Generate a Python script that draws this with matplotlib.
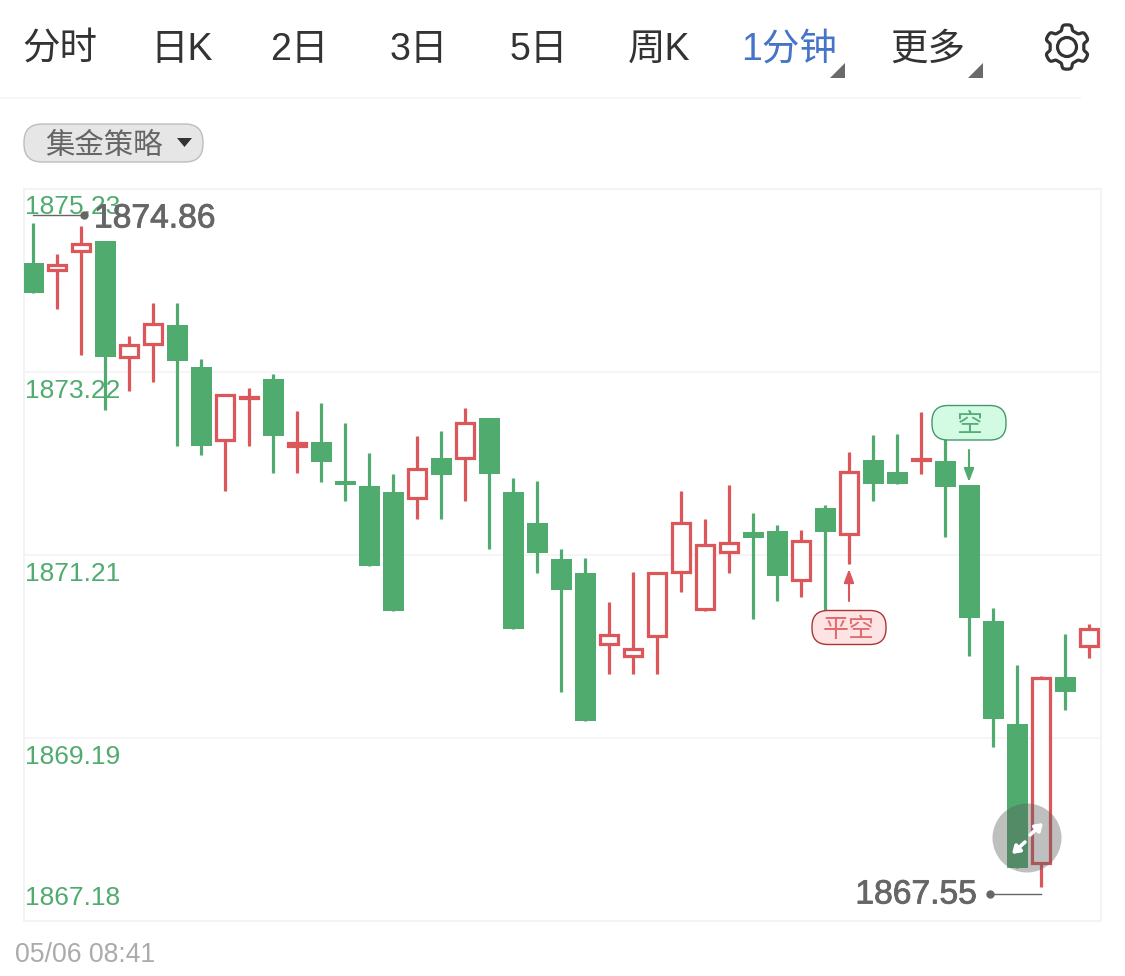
import numpy as np
import matplotlib
matplotlib.use("Agg")
import matplotlib.pyplot as plt
from matplotlib.patches import FancyBboxPatch, Polygon, Circle
import matplotlib.patheffects as pe

FONT = ['Liberation Sans', 'Noto Sans CJK SC', 'DejaVu Sans']
plt.rcParams['font.family'] = FONT

tabs = ['分时', '日K', '2日', '3日', '5日', '周K', '1分钟', '更多']
strategy_label = '集金策略'
time_label = '05/06 08:41'
y_ticks = [1875.23, 1873.22, 1871.21, 1869.19, 1867.18]
y_labels = ['1875.23', '1873.22', '1871.21', '1869.19', '1867.18']

highs = [1874.86, 1874.52, 1874.82, 1874.66, 1873.61, 1873.98, 1873.98, 1873.36, 1872.98, 1873.04,
         1873.20, 1872.79, 1872.88, 1872.66, 1872.33, 1872.10, 1872.51, 1872.57, 1872.82, 1872.71,
         1872.05, 1872.02, 1871.27, 1871.17, 1870.69, 1871.02, 1871.02, 1871.91, 1871.60, 1871.97,
         1871.67, 1871.53, 1871.48, 1871.75, 1872.34, 1872.52, 1872.54, 1872.78, 1872.49, 1871.97,
         1870.62, 1869.99, 1869.87, 1870.34, 1870.45]
lows = [1874.09, 1873.91, 1873.40, 1872.80, 1873.01, 1873.11, 1872.40, 1872.30, 1871.91, 1872.40,
        1872.11, 1872.11, 1872.01, 1871.80, 1871.08, 1870.59, 1871.60, 1871.60, 1871.80, 1871.27,
        1870.39, 1871.01, 1869.70, 1869.38, 1869.90, 1869.90, 1869.90, 1870.80, 1870.59, 1871.01,
        1870.50, 1870.70, 1870.74, 1870.54, 1871.11, 1871.80, 1871.99, 1872.10, 1871.40, 1870.09,
        1869.09, 1867.76, 1867.55, 1869.50, 1870.07]
opens = [1874.42, 1874.32, 1874.53, 1874.66, 1873.37, 1873.51, 1873.73, 1873.27, 1872.45, 1872.91,
         1873.14, 1872.39, 1872.45, 1872.02, 1871.96, 1871.90, 1871.81, 1872.27, 1872.25, 1872.71,
         1871.90, 1871.56, 1871.16, 1871.01, 1870.21, 1870.08, 1870.30, 1871.00, 1870.59, 1871.22,
         1871.46, 1871.47, 1870.91, 1871.72, 1871.42, 1872.25, 1872.12, 1872.23, 1872.24, 1871.97,
         1870.48, 1869.35, 1867.80, 1869.86, 1870.19]
closes = [1874.09, 1874.41, 1874.64, 1873.38, 1873.53, 1873.76, 1873.34, 1872.40, 1872.98, 1872.96,
          1872.51, 1872.45, 1872.23, 1871.97, 1871.08, 1870.59, 1872.17, 1872.08, 1872.67, 1872.10,
          1870.39, 1871.23, 1870.82, 1869.38, 1870.34, 1870.19, 1871.02, 1871.57, 1871.33, 1871.35,
          1871.39, 1870.97, 1871.38, 1871.46, 1872.14, 1871.99, 1871.99, 1872.28, 1871.95, 1870.51,
          1869.40, 1867.76, 1869.87, 1869.70, 1870.41]

GREEN = '#4fab6e'
RED = '#db5759'
LINE = '#f3f3f5'
W, H = 1125, 976
L, R, T, B = 24, 1101, 189, 921

fig = plt.figure(figsize=(W / 100, H / 100), dpi=100, facecolor='white')
ax = fig.add_axes([L / W, 1 - B / H, (R - L) / W, (B - T) / H], zorder=1)

x = np.arange(len(opens))
o, h, l, c = map(np.array, (opens, highs, lows, closes))
up = c > o
ax.set_xlim(-0.375, 44.5)
ax.set_ylim(y_ticks[-1], y_ticks[0])
px_price = (y_ticks[0] - y_ticks[-1]) / (B - T)
px_x = 1 / 24.0
stroke_px = 3.2
stroke_pt = stroke_px * 0.72

for s in ax.spines.values():
    s.set_color(LINE)
    s.set_linewidth(1.4)
ax.set_xticks([])
ax.set_yticks(y_ticks[1:-1])
ax.set_yticklabels([])
ax.tick_params(axis='y', length=0)
ax.grid(axis='y', color=LINE, linewidth=1.2, zorder=0)
ax.set_axisbelow(True)

offsets = [-18, -19, -19, -19, 23]
for v, t, off in zip(y_ticks, y_labels, offsets):
    ax.annotate(t, xy=(0, v), xycoords=('axes fraction', 'data'),
                xytext=(1, off * 0.72), textcoords='offset points',
                color=GREEN, fontsize=19, ha='left', va='center', zorder=2)

ax.vlines(x[~up], l[~up], h[~up], color=GREEN, linewidth=stroke_pt, capstyle='butt', zorder=3)
ax.vlines(x[up], l[up], h[up], color=RED, linewidth=stroke_pt, capstyle='butt', zorder=3)
ax.bar(x[~up], (o - c)[~up], bottom=c[~up], width=21 * px_x, color=GREEN, linewidth=0, zorder=4)
inset = stroke_px / 2 * px_price
ax.bar(x[up], (c - o)[up] - 2 * inset, bottom=o[up] + inset, width=(21 - stroke_px) * px_x,
       facecolor='white', edgecolor=RED, linewidth=stroke_pt, joinstyle='miter', zorder=4)

# overlay in pixel coordinates: toolbar and annotations
ov = fig.add_axes([0, 0, 1, 1], zorder=2)
ov.set_xlim(0, W)
ov.set_ylim(H, 0)
ov.axis('off')
ov.patch.set_alpha(0)

tab_x = [22, 150, 270, 390, 510, 628, 741, 890]
for t, tx in zip(tabs, tab_x):
    ov.text(tx, 50, t, fontsize=27, family=FONT, ha='left', va='center',
            color='#4674c6' if t == '1分钟' else '#333333')
for tx in (845, 983):
    ov.add_patch(Polygon([(tx, 63), (tx, 78), (tx - 15, 78)], closed=True, color='#6a6a6a', lw=0))
ov.plot([0, 1080], [98, 98], color=LINE, lw=1.2)

# gear
theta = np.linspace(0, 2 * np.pi, 361)
radius = 19.5 + 2.7 * np.tanh(2.5 * np.cos(6 * (theta - np.pi / 2)))
ov.add_patch(Polygon(np.c_[1067 + radius * np.cos(theta), 47 + radius * np.sin(theta)], closed=True,
                     fill=False, edgecolor='#333333', lw=2.3, joinstyle='round'))
ov.add_patch(Circle((1067, 47), 9.5, fill=False, edgecolor='#333333', lw=2.3))

# strategy pill
ov.add_patch(FancyBboxPatch((24, 124), 179, 38, boxstyle='round,pad=0,rounding_size=18',
                            facecolor='#e6e6e6', edgecolor='#bdbdbd', lw=1))
ov.text(45, 146, strategy_label, fontsize=21.2, family=FONT, ha='left', va='center', color='#666666')
ov.add_patch(Polygon([(177, 138), (192, 138), (184.5, 147)], closed=True, color='#333333', lw=0))

ov.text(15, 955, time_label, fontsize=19.2, ha='left', va='center', color='#ababab')

# extreme value leaders
bold = [pe.withStroke(linewidth=0.6, foreground='#666666')]
hi_x = ax.transData.transform((int(np.argmax(h)), 0))[0]
lo_x = ax.transData.transform((int(np.argmin(l)), 0))[0]
ov.plot([hi_x, 84], [215, 215], color='#666666', lw=1)
ov.plot([84], [215], 'o', color='#666666', ms=6, mew=0)
ov.text(94, 219, f'{h.max():.2f}', fontsize=24.2, ha='left', va='center', color='#666666', path_effects=bold)
ov.plot([990, lo_x], [894, 894], color='#666666', lw=1)
ov.plot([990], [894], 'o', color='#666666', ms=6, mew=0)
ov.text(977, 895, f'{l.min():.2f}', fontsize=24.2, ha='right', va='center', color='#666666', path_effects=bold)

# signal pills
ov.add_patch(FancyBboxPatch((932, 405.5), 74, 34.5, boxstyle='round,pad=0,rounding_size=16',
                            facecolor='#d3fae3', edgecolor='#44996a', lw=1))
ov.text(969, 425, '空', fontsize=18.7, family=FONT, ha='center', va='center', color='#55ad78')
ov.annotate('', xy=(969, 482), xytext=(969, 450),
            arrowprops=dict(arrowstyle='-|>,head_width=0.3,head_length=0.8', color=GREEN, lw=1.5,
                            shrinkA=0, shrinkB=0))
ov.add_patch(FancyBboxPatch((812, 610.5), 74, 34, boxstyle='round,pad=0,rounding_size=16',
                            facecolor='#fde3e3', edgecolor='#a93536', lw=1))
ov.text(849, 630, '平空', fontsize=18.7, family=FONT, ha='center', va='center', color='#e26a6c')
ov.annotate('', xy=(849, 569), xytext=(849, 601),
            arrowprops=dict(arrowstyle='-|>,head_width=0.3,head_length=0.8', color=RED, lw=1.5,
                            shrinkA=0, shrinkB=0))

# expand button
ov.add_patch(Circle((1027, 838), 34.5, facecolor=(0.35, 0.35, 0.35, 0.38), edgecolor='none'))
for a, b in (((1025, 842), (1012, 854)), ((1030, 835), (1043, 823))):
    ov.annotate('', xy=b, xytext=a,
                arrowprops=dict(arrowstyle='-|>,head_width=0.28,head_length=0.42', color='white', lw=2.6,
                                shrinkA=0, shrinkB=0))

fig.savefig('out.png', dpi=100, facecolor='white')
